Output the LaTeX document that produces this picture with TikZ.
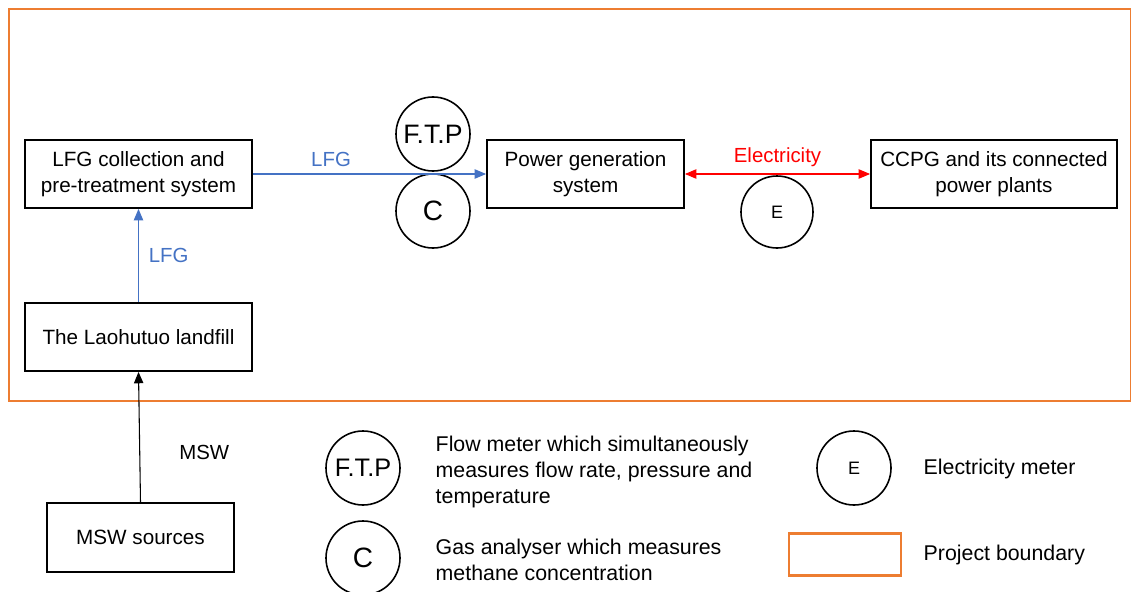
\documentclass[tikz,border=0pt]{standalone}
\usepackage{fontspec}
\setmainfont{Liberation Sans}
\usetikzlibrary{arrows.meta}
\definecolor{borange}{RGB}{237,125,49}
\definecolor{fblue}{RGB}{68,114,196}
\definecolor{ered}{RGB}{255,0,0}
\begin{document}
\begin{tikzpicture}[x=0.75pt,y=-0.75pt,
  box/.style={draw=black,line width=1.4pt,inner sep=0pt,align=center,font=\fontsize{15.5}{19.5}\selectfont},
  meter/.style={draw=black,line width=1.2pt,circle,minimum size=55.5pt,inner sep=0pt},
  lbl/.style={font=\fontsize{15.3}{19.5}\selectfont},
  leg/.style={font=\fontsize{16}{19.5}\selectfont,align=left,anchor=west},
  flow/.style={line width=0.8pt,-{Triangle[length=8.5pt,width=7pt]}}]
\useasboundingbox (0,0) rectangle (1131,592);
% project boundary
\draw[borange,line width=2.2pt] (9,9) rectangle (1131,401);
% boxes
\node[box,minimum width=170.25pt,minimum height=51pt] (lfg) at (138.5,174) {LFG collection and\\pre-treatment system};
\node[box,minimum width=147.75pt,minimum height=51pt] (pgs) at (585.5,174) {Power generation\\system};
\node[box,minimum width=184.5pt,minimum height=51pt] (ccpg) at (994,174) {CCPG and its connected\\power plants};
\node[box,minimum width=170.25pt,minimum height=51pt] (land) at (138.5,337) {The Laohutuo landfill};
\node[box,minimum width=140.25pt,minimum height=51.75pt] (msw) at (140.5,537.5) {MSW sources};
% meters
\node[meter,font=\fontsize{20}{20}\selectfont] (ftp) at (433,134) {F.T.P};
\node[meter,font=\fontsize{21}{21}\selectfont] (c) at (433,211) {C};
\node[meter,minimum size=54pt,font=\fontsize{13.5}{13.5}\selectfont] (e) at (777,212) {E};
% connectors
\draw[flow,fblue] (lfg.east) -- (pgs.west) node[pos=0.335,above=2pt,lbl,text=fblue] (l1) {LFG};
\draw[flow,fblue] (land.north) -- (lfg.south) node[midway,right=4pt,lbl,text=fblue] (l2) {LFG};
\draw[flow,black] (msw.north) -- (land.south) node[pos=0.38,right=26pt,lbl] (l3) {MSW};
\draw[line width=0.8pt,ered,{Triangle[length=8.5pt,width=7pt]}-{Triangle[length=8.5pt,width=7pt]}] (pgs.east) -- (ccpg.west) node[midway,above=2pt,lbl,text=ered] (l4) {Electricity};
% legend
\node[meter,font=\fontsize{19}{19}\selectfont] (lftp) at (363,468) {F.T.P};
\node[leg] (tftp) at (431,472) {Flow meter which simultaneously\\measures flow rate, pressure and\\temperature};
\node[meter,font=\fontsize{21}{21}\selectfont] (lc) at (363,558) {C};
\node[leg] (tc) at (431,560) {Gas analyser which measures\\methane concentration};
\node[meter,font=\fontsize{13.5}{13.5}\selectfont] (le) at (854,468) {E};
\node[leg] (te) at (919,469) {Electricity meter};
\node[draw=borange,line width=2pt,minimum width=84pt,minimum height=31.5pt,inner sep=0pt] (lb) at (845,554.5) {};
\node[leg] (tb) at (919,555) {Project boundary};
\end{tikzpicture}
\end{document}
